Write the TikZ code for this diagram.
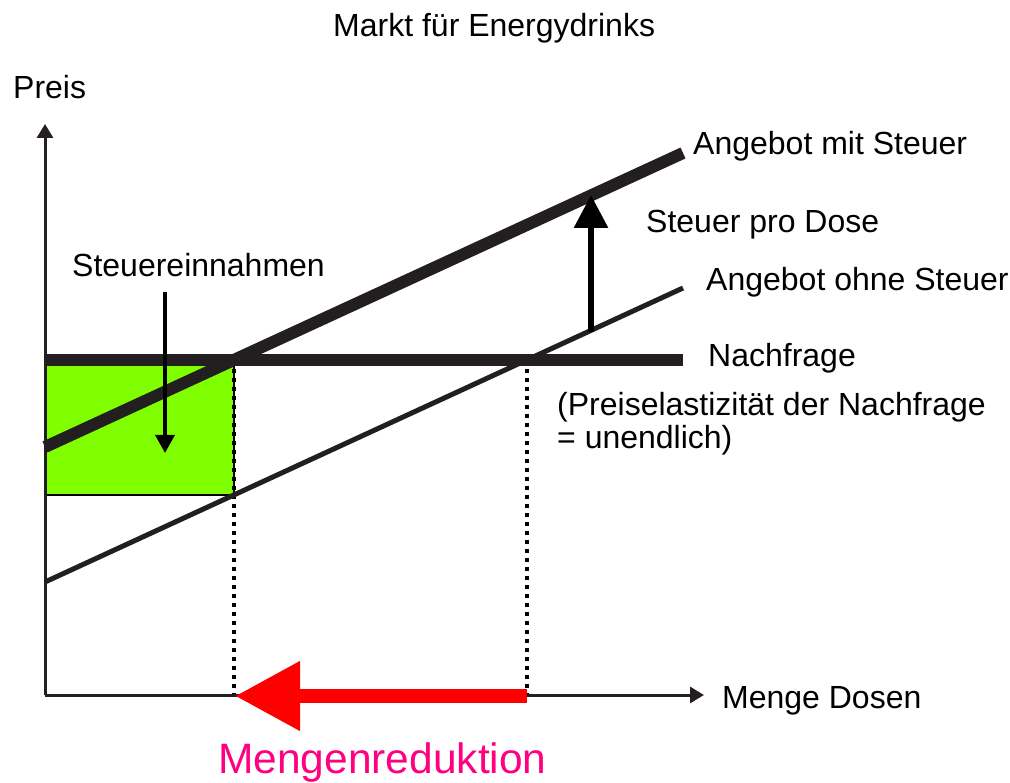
\documentclass[tikz,border=0pt]{standalone}
\usepackage{fontspec}
\setmainfont{Liberation Sans}
\usetikzlibrary{arrows.meta}
\definecolor{ink}{RGB}{35,31,32}
\definecolor{revgreen}{RGB}{128,255,0}
\definecolor{pink}{RGB}{255,0,128}
\begin{document}
\begin{tikzpicture}[x=1pt,y=-1pt,
  lbl/.style={anchor=base west,inner sep=0pt,font=\fontsize{32}{38}\selectfont},
  axis/.style={draw=ink,line width=3pt,-{Triangle[length=14pt,width=16pt]}},
  guide/.style={draw=black,line width=3.5pt,dash pattern=on 4pt off 5pt}]
\useasboundingbox (0,0) rectangle (1010,783);

\coordinate (O) at (45,695);  \coordinate (Y) at (45,124);  \coordinate (X) at (704,695);
\coordinate (D1) at (45,360); \coordinate (D2) at (683,360);
\coordinate (M1) at (45,447); \coordinate (M2) at (683,153);
\coordinate (S1) at (45,582); \coordinate (S2) at (683,288);
\coordinate (E1) at (234,360); \coordinate (E0) at (527,360);
\coordinate (Q1) at (234,695); \coordinate (Q0) at (527,695);
\coordinate (R) at (234,495);

\fill[revgreen] (D1) rectangle (R);
\path (E1) edge[guide] (Q1);
\path (E0) edge[guide] (Q0);
\draw[black,line width=2pt] (D1) rectangle (R);

\draw[axis] (O) -- (Y);
\draw[axis] (O) -- (X);

\draw[ink,line width=5pt] (S1) -- (S2);
\draw[ink,line width=12pt] (M1) -- (M2);
\draw[ink,line width=12pt] (D1) -- (D2);

\coordinate (T0) at (591,332); \coordinate (T1) at (591,195);
\draw[black,line width=6pt,-{Triangle[length=33pt,width=33pt]}] (T0) -- (T1);
\coordinate (G0) at (165,292); \coordinate (G1) at (165,453);
\draw[black,line width=3.5pt,-{Triangle[length=18pt,width=19pt]}] (G0) -- (G1);

\coordinate (P0) at (527,696); \coordinate (P1) at (235,696);
\draw[red,line width=14pt,-{Triangle[length=65pt,width=66pt]}] (P0) -- (P1);

\node[lbl] (title) at (333,37) {Markt für Energydrinks};
\node[lbl] (preis) at (13,99) {Preis};
\node[lbl] (mit) at (693,155) {Angebot mit Steuer};
\node[lbl] (dose) at (646,233) {Steuer pro Dose};
\node[lbl] (einn) at (72,277) {Steuereinnahmen};
\node[lbl] (ohne) at (706,291) {Angebot ohne Steuer};
\node[lbl] (nachfr) at (708,367) {Nachfrage};
\node[lbl] (elast) at (557,416) {(Preiselastizität der Nachfrage};
\node[lbl] (unendl) at (557,449) {= unendlich)};
\node[lbl] (menge) at (722,708) {Menge Dosen};
\node[lbl,font=\fontsize{42.5}{50}\selectfont,text=pink] (reduk) at (218,773) {Mengenreduktion};
\end{tikzpicture}
\end{document}
